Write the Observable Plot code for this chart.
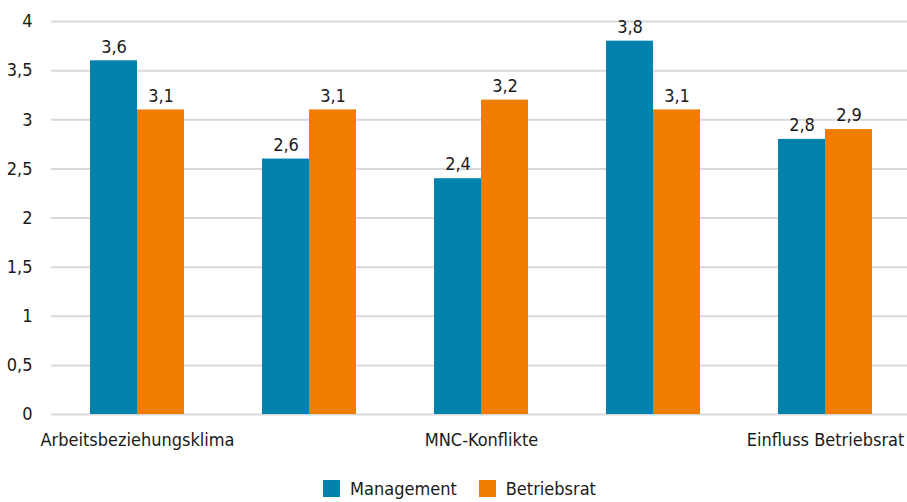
<!DOCTYPE html>
<html>
<head>
<meta charset="utf-8">
<script src="https://cdn.jsdelivr.net/npm/d3@7"></script>
<script src="https://cdn.jsdelivr.net/npm/@observablehq/plot@0.6"></script>
<style>
  html, body { margin: 0; padding: 0; background: #fff; }
  body { width: 907px; height: 502px; overflow: hidden; font-family: "Liberation Sans Narrow", "DejaVu Sans Condensed", sans-serif; }
  #chart { width: 907px; height: 462px; overflow: hidden; }
  #chart svg { max-width: none !important; }
  #legend { display: flex; justify-content: center; align-items: center; gap: 22px; font-size: 18px; color: #1a1a1a; margin-left: 12px; margin-top: 16px; }
  #legend .item { display: flex; align-items: center; gap: 10px; }
  #legend .sw { width: 17px; height: 17px; display: inline-block; }
</style>
</head>
<body>
<div id="chart"></div>
<div id="legend"></div>
<script>
const categories = ["Arbeitsbeziehungsklima", "Kategorie 2", "MNC-Konflikte", "Kategorie 4", "Einfluss Betriebsrat"];
const tickLabels = ["Arbeitsbeziehungsklima", "", "MNC-Konflikte", "", "Einfluss Betriebsrat"];
const seriesNames = ["Management", "Betriebsrat"];
const management = [3.6, 2.6, 2.4, 3.8, 2.8];
const betriebsrat = [3.1, 3.1, 3.2, 3.1, 2.9];
const yTicks = [0, 0.5, 1, 1.5, 2, 2.5, 3, 3.5, 4];
const colors = ["#0382ad", "#ef7d00"];

const data = [];
categories.forEach((c, i) => {
  data.push({cat: c, series: seriesNames[0], value: management[i]});
  data.push({cat: c, series: seriesNames[1], value: betriebsrat[i]});
});
const fmt = v => String(v).replace(".", ",");
const font = '"Liberation Sans Narrow", "DejaVu Sans Condensed", sans-serif';

const chart = Plot.plot({
  width: 913,
  height: 462,
  marginLeft: 49,
  marginRight: 0,
  marginTop: 21,
  marginBottom: 48,
  style: {fontFamily: font, fontSize: "18px", color: "#1a1a1a", background: "#fff", maxWidth: "none"},
  fx: {domain: categories, padding: 0, label: null, axis: "bottom", tickSize: 0, tickPadding: 19,
       tickFormat: (d) => tickLabels[categories.indexOf(d)]},
  x: {domain: seriesNames, paddingInner: 0, paddingOuter: 0.8, axis: null},
  y: {domain: [0, 4], ticks: yTicks, tickFormat: fmt, tickSize: 0, tickPadding: 19, label: null, grid: false},
  color: {domain: seriesNames, range: colors},
  marks: [
    Plot.ruleY(yTicks, {stroke: "#d9d9d9", strokeWidth: 2}),
    Plot.barY(data, {fx: "cat", x: "series", y: "value", fill: "series", insetLeft: 0, insetRight: 0}),
    Plot.text(data, {fx: "cat", x: "series", y: "value", text: d => fmt(d.value), dy: -14, fontSize: 18, fill: "#1a1a1a"})
  ]
});
document.getElementById("chart").appendChild(chart);

const legend = document.getElementById("legend");
seriesNames.forEach((s, i) => {
  const item = document.createElement("div");
  item.className = "item";
  const sw = document.createElement("span");
  sw.className = "sw";
  sw.style.background = colors[i];
  const label = document.createElement("span");
  label.textContent = s;
  item.appendChild(sw);
  item.appendChild(label);
  legend.appendChild(item);
});
</script>
</body>
</html>
